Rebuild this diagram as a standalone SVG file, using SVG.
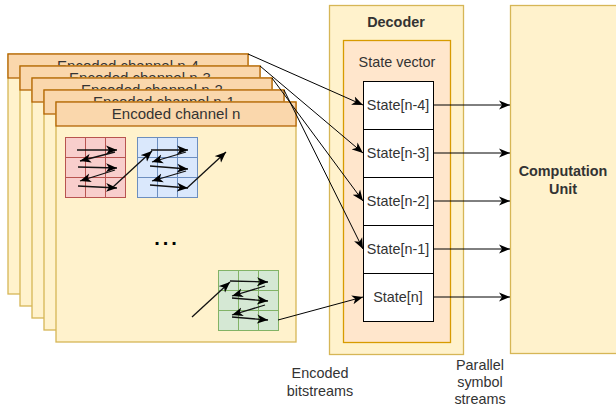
<svg xmlns="http://www.w3.org/2000/svg" width="616" height="407" viewBox="0 0 616 407">
<defs>
<style>
text{font-family:"Liberation Sans",Arial,sans-serif;font-size:14.4px;fill:#333;text-anchor:middle}
.b{font-weight:bold}
.body{fill:#fff2cc;stroke:#d6b656;stroke-width:1.3}
.head{fill:#fad7ac;stroke:#b46504;stroke-width:1.3}
.hd{font-size:15px}
.red{fill:#f8cecc;stroke:#b85450}
.blue{fill:#dae8fc;stroke:#6c8ebf}
.green{fill:#d5e8d4;stroke:#82b366}
.cell{fill:#fff;stroke:#000;stroke-width:1}
.ln{fill:none;stroke:#000;stroke-width:1;marker-end:url(#ah)}
.zz{fill:none;stroke:#111;stroke-width:1.3;marker-end:url(#ah)}
</style>
<marker id="ah" markerUnits="userSpaceOnUse" markerWidth="12" markerHeight="10" viewBox="0 0 12 10" refX="11" refY="5" orient="auto">
<path d="M0,0.5 L11,5 L0,9.5 L3,5 z" fill="#000"/>
</marker>
<g id="grid3">
<rect x="0" y="0" width="60" height="60"/>
<path d="M20,0V60M40,0V60M0,20H60M0,40H60"/>
</g>
</defs>
<g id="channel-n-4"><rect class="body" x="8" y="54" width="240" height="240"/><rect class="head" x="8" y="54" width="240" height="24"/><text class="hd" x="128" y="71">Encoded channel n-4</text></g>
<g id="channel-n-3"><rect class="body" x="20" y="66" width="240" height="240"/><rect class="head" x="20" y="66" width="240" height="24"/><text class="hd" x="140" y="83">Encoded channel n-3</text></g>
<g id="channel-n-2"><rect class="body" x="32" y="78" width="240" height="240"/><rect class="head" x="32" y="78" width="240" height="24"/><text class="hd" x="152" y="95">Encoded channel n-2</text></g>
<g id="channel-n-1"><rect class="body" x="44" y="90" width="240" height="240"/><rect class="head" x="44" y="90" width="240" height="24"/><text class="hd" x="164" y="107">Encoded channel n-1</text></g>
<g id="channel-n"><rect class="body" x="56" y="102" width="240" height="240"/><rect class="head" x="56" y="102" width="240" height="24"/><text class="hd" x="176" y="119">Encoded channel n</text>
<text class="b" x="167" y="245" style="font-size:20px;letter-spacing:3px;fill:#000">...</text>
</g>
<g id="grid-red" class="red"><use href="#grid3" x="65.5" y="137.5"/></g>
<g id="grid-blue" class="blue"><use href="#grid3" x="137.5" y="137.5"/></g>
<g id="grid-green" class="green"><use href="#grid3" x="218.5" y="270.5"/></g>
<g id="zigzag">
<path class="zz" d="M77,150 L117,150"/>
<path class="zz" d="M115,152 L80,161"/>
<path class="zz" d="M78,167 L117,168"/>
<path class="zz" d="M115,170 L80,181"/>
<path class="zz" d="M78,186 L117,188"/>
<path class="zz" d="M113,187 L152,151"/>
<path class="zz" d="M151,150 L188,150"/>
<path class="zz" d="M186,152 L152,162"/>
<path class="zz" d="M150,166 L188,169"/>
<path class="zz" d="M186,171 L152,181"/>
<path class="zz" d="M150,185 L188,188"/>
<path class="zz" d="M187,188 L226,152"/>
<path class="zz" d="M192,317 L230,282"/>
<path class="zz" d="M230,281 L268,282"/>
<path class="zz" d="M265,286 L232,296"/>
<path class="zz" d="M232,298 L268,301"/>
<path class="zz" d="M265,305 L232,315"/>
<path class="zz" d="M232,317 L268,320"/>
</g>
<g id="decoder"><rect class="body" x="329.5" y="5.5" width="134" height="349"/><text class="b" x="396" y="27">Decoder</text></g>
<g id="state-vector"><rect x="343.5" y="40.5" width="107" height="302" fill="#ffe6cc" stroke="#d79b00" stroke-width="1.3"/><text x="397" y="67">State vector</text></g>
<g id="state-n-4"><rect class="cell" x="363.5" y="81.5" width="70" height="48"/><text x="398" y="110">State[n-4]</text></g>
<g id="state-n-3"><rect class="cell" x="363.5" y="129.5" width="70" height="48"/><text x="398" y="158">State[n-3]</text></g>
<g id="state-n-2"><rect class="cell" x="363.5" y="177.5" width="70" height="48"/><text x="398" y="206">State[n-2]</text></g>
<g id="state-n-1"><rect class="cell" x="363.5" y="225.5" width="70" height="48"/><text x="398" y="254">State[n-1]</text></g>
<g id="state-n"><rect class="cell" x="363.5" y="273.5" width="70" height="48"/><text x="398" y="302">State[n]</text></g>
<g id="computation-unit"><rect class="body" x="510.5" y="5.5" width="107" height="348"/><text class="b" x="563" y="176">Computation</text><text class="b" x="563" y="194">Unit</text></g>
<g id="connectors">
<path class="ln" d="M248,54 L363,105"/>
<path class="ln" d="M260,66 L363,153"/>
<path class="ln" d="M272,78 L363,201"/>
<path class="ln" d="M284,90 L363,249"/>
<path class="ln" d="M278,320 L363,297"/>
<path class="ln" d="M433,105 L510,105"/>
<path class="ln" d="M433,153 L510,153"/>
<path class="ln" d="M433,201 L510,201"/>
<path class="ln" d="M433,249 L510,249"/>
<path class="ln" d="M433,297 L510,297"/>
</g>
<g id="labels">
<text x="320" y="378">Encoded</text><text x="320" y="396">bitstreams</text>
<text x="480" y="370">Parallel</text><text x="480" y="387">symbol</text><text x="480" y="404">streams</text>
</g>
</svg>
